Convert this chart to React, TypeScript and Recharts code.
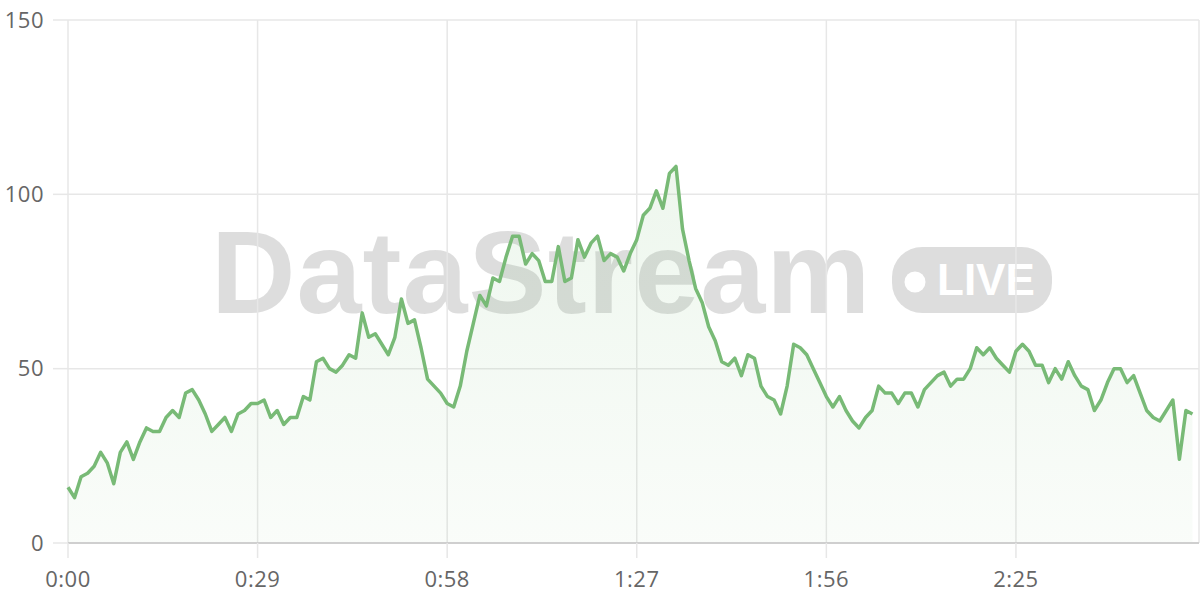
import React from 'react'
import { AreaChart, Area, XAxis, YAxis, CartesianGrid } from 'recharts'

// one reading per second, 0:00 .. 2:52
const VIEWERS = [
  16, 13, 19, 20, 22, 26, 23, 17, 26, 29,
  24, 29, 33, 32, 32, 36, 38, 36, 43, 44,
  41, 37, 32, 34, 36, 32, 37, 38, 40, 40,
  41, 36, 38, 34, 36, 36, 42, 41, 52, 53,
  50, 49, 51, 54, 53, 66, 59, 60, 57, 54,
  59, 70, 63, 64, 56, 47, 45, 43, 40, 39,
  45, 55, 63, 71, 68, 76, 75, 82, 88, 88,
  80, 83, 81, 75, 75, 85, 75, 76, 87, 82,
  86, 88, 81, 83, 82, 78, 83, 87, 94, 96,
  101, 96, 106, 108, 90, 81, 73, 69, 62, 58,
  52, 51, 53, 48, 54, 53, 45, 42, 41, 37,
  45, 57, 56, 54, 50, 46, 42, 39, 42, 38,
  35, 33, 36, 38, 45, 43, 43, 40, 43, 43,
  39, 44, 46, 48, 49, 45, 47, 47, 50, 56,
  54, 56, 53, 51, 49, 55, 57, 55, 51, 51,
  46, 50, 47, 52, 48, 45, 44, 38, 41, 46,
  50, 50, 46, 48, 43, 38, 36, 35, 38, 41,
  24, 38, 37,
]

const X_TICKS = [0, 29, 58, 87, 116, 145]
const X_LABELS = ['0:00', '0:29', '0:58', '1:27', '1:56', '2:25']
const Y_TICKS = [0, 50, 100, 150]

const LINE = '#78ba76'
const GRID = '#e7e7e7'

const chartData = VIEWERS.map((v, i) => ({ t: i, v }))

function Watermark() {
  return (
    <svg width={1200} height={600} style={{ position: 'absolute', left: 0, top: 0 }}>
      <text x={211} y={313} fontFamily="'Liberation Sans', Arial, sans-serif" fontWeight={700}
        fontSize={117} letterSpacing={1} fill="#000" fillOpacity={0.135}>DataStream</text>
      <rect x={892} y={247} width={160} height={66} rx={30} fill="#000" fillOpacity={0.135} />
      <circle cx={915} cy={282} r={10.5} fill="#fff" />
      <text x={937} y={295} fontFamily="'Liberation Sans', Arial, sans-serif" fontWeight={700}
        fontSize={44} fill="#fff">LIVE</text>
    </svg>
  )
}

export default function App() {
  const tick = { fill: '#666', fontSize: 22, fontFamily: "'Open Sans', 'Liberation Sans', sans-serif", letterSpacing: 0.5 }
  return (
    <div style={{ position: 'absolute', left: 0, top: 0, width: 1200, height: 600, background: '#fff' }}>
      <Watermark />
      <div style={{ position: 'relative' }}>
        <AreaChart width={1200} height={600} data={chartData} margin={{ top: 20, right: 1, left: 0, bottom: 0 }}>
          <defs>
            <linearGradient id="fillGrad" x1="0" y1="0" x2="0" y2="1">
              <stop offset="0%" stopColor="#7cbf7a" stopOpacity={0.22} />
              <stop offset="100%" stopColor="#7cbf7a" stopOpacity={0.07} />
            </linearGradient>
          </defs>
          <CartesianGrid stroke={GRID} strokeWidth={1.5} />
          <XAxis
            dataKey="t" type="number" domain={[0, 173]} ticks={X_TICKS}
            tickFormatter={(v: number) => X_LABELS[X_TICKS.indexOf(v)] ?? ''}
            height={57} tick={tick} tickSize={15} tickMargin={13}
            tickLine={{ stroke: GRID, strokeWidth: 1.5 }} axisLine={{ stroke: '#cfcfcf', strokeWidth: 2 }}
          />
          <YAxis
            domain={[0, 150]} ticks={Y_TICKS} width={68} tick={tick} tickSize={15} tickMargin={9}
            tickLine={{ stroke: GRID, strokeWidth: 1.5 }} axisLine={false}
          />
          <Area
            type="linear" dataKey="v" stroke={LINE} strokeWidth={3.5} fill="url(#fillGrad)"
            strokeLinejoin="round" dot={false} activeDot={false} isAnimationActive={false}
          />
        </AreaChart>
      </div>
    </div>
  )
}
